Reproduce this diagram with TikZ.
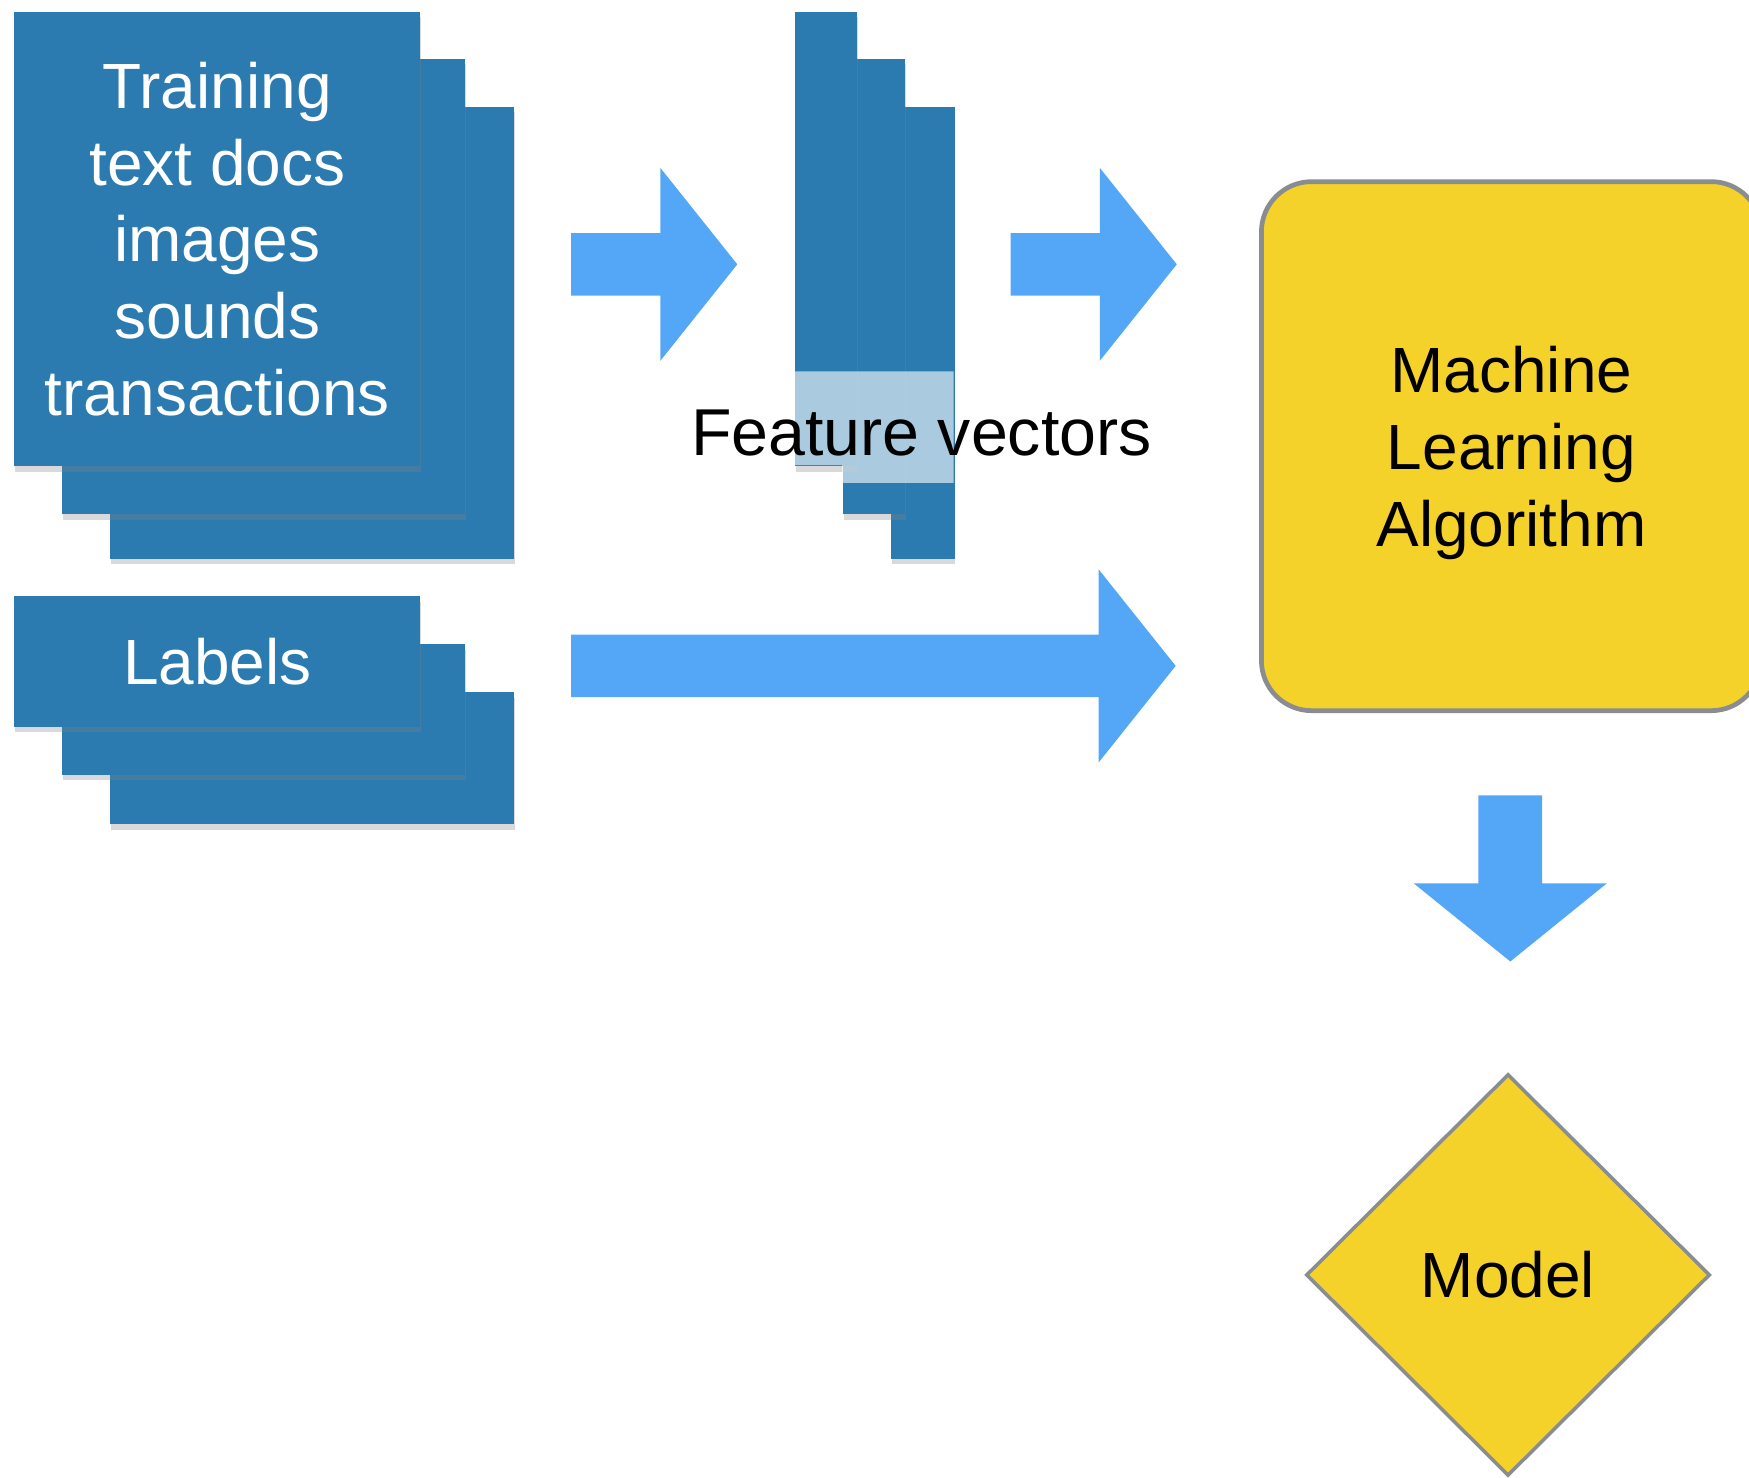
\documentclass[tikz,border=0pt]{standalone}
\usepackage{fontspec}
\setmainfont{Liberation Sans}
\usetikzlibrary{shapes.geometric,shadows,calc}

\definecolor{paperblue}{RGB}{44,123,176}
\definecolor{arrowblue}{RGB}{84,167,246}
\definecolor{algoyellow}{RGB}{245,210,42}
\definecolor{rimgray}{RGB}{137,141,145}

\tikzset{
  paper/.style={fill=paperblue, draw=none, inner sep=0pt, anchor=north west,
    drop shadow={opacity=0.3, shadow xshift=0.2pt, shadow yshift=-1.4pt}},
  papertext/.style={text=white, align=center, font=\fontsize{16.3}{19.6}\selectfont},
  flow/.style={fill=arrowblue},
  blacktext/.style={text=black, align=center, font=\fontsize{16.3}{19.6}\selectfont},
}

% horizontal block arrow from tail #1 to tip #2
\newcommand\rightblock[2]{%
  \fill[flow] let \p1=(#1), \p2=(#2) in
    (\x1,\y1+0.28cm) -- (\x2-0.69cm,\y1+0.28cm) -- (\x2-0.69cm,\y1+0.865cm)
    -- (\x2,\y2) -- (\x2-0.69cm,\y1-0.865cm) -- (\x2-0.69cm,\y1-0.28cm)
    -- (\x1,\y1-0.28cm) -- cycle;}
% downward block arrow from tail #1 to tip #2
\newcommand\downblock[2]{%
  \fill[flow] let \p1=(#1), \p2=(#2) in
    (\x1-0.285cm,\y1) -- (\x1-0.285cm,\y2+0.70cm) -- (\x1-0.865cm,\y2+0.70cm)
    -- (\x2,\y2) -- (\x1+0.865cm,\y2+0.70cm) -- (\x1+0.285cm,\y2+0.70cm)
    -- (\x1+0.285cm,\y1) -- cycle;}

\begin{document}
\begin{tikzpicture}[x=0.01cm, y=-0.01cm]
\useasboundingbox (0,0) rectangle (1568,1325);
\clip (0,0) rectangle (1568,1325);

% training data stack
\node[paper, minimum width=3.62cm, minimum height=4.05cm] (tb3) at (98,95) {};
\node[paper, minimum width=3.61cm, minimum height=4.08cm] (tb2) at (55,52) {};
\node[paper, papertext, minimum width=3.64cm, minimum height=4.07cm] (tb1) at (12,10)
  {Training\\text docs\\images\\sounds\\transactions};

% labels stack
\node[paper, minimum width=3.62cm, minimum height=1.18cm] (lb3) at (98,620) {};
\node[paper, minimum width=3.61cm, minimum height=1.17cm] (lb2) at (55,577) {};
\node[paper, papertext, minimum width=3.64cm, minimum height=1.17cm] (lb1) at (12,534) {Labels};

% feature vector strips
\node[paper, minimum width=0.57cm, minimum height=4.05cm] (fv3) at (798,95) {};
\node[paper, minimum width=0.56cm, minimum height=4.08cm] (fv2) at (755,52) {};
\node[paper, minimum width=0.56cm, minimum height=4.07cm] (fv1) at (712,10) {};
% pale band behind the caption
\fill[white, fill opacity=0.6] (712,333) -- (855,333) -- (855,433) -- (755,433)
  -- (755,417) -- (712,417) -- cycle;
\node[blacktext, font=\fontsize{16.9}{20}\selectfont] (fvtext) at (826,388) {Feature vectors};

% learning algorithm
\node[draw=rimgray, line width=1.2pt, fill=algoyellow, rounded corners=0.45cm,
  minimum width=4.48cm, minimum height=4.74cm] (ml) at (1355,400) {};
\node[blacktext] (mltext) at ($(ml.center)+(0,6)$) {Machine\\Learning\\Algorithm};

% resulting model
\node[diamond, draw=rimgray, line width=0.9pt, fill=algoyellow, inner sep=0pt,
  minimum width=3.62cm, minimum height=3.60cm, blacktext] (model) at (1352,1143) {Model};

% flow arrows
\coordinate (a1s) at (512,237);  \coordinate (a1e) at (661,237);
\coordinate (a2s) at (906,237);  \coordinate (a2e) at (1055,237);
\coordinate (a3s) at (512,597);  \coordinate (a3e) at (1054,597);
\coordinate (a4s) at (1354,713); \coordinate (a4e) at (1354,862);
\rightblock{a1s}{a1e}
\rightblock{a2s}{a2e}
\rightblock{a3s}{a3e}
\downblock{a4s}{a4e}
\end{tikzpicture}
\end{document}
